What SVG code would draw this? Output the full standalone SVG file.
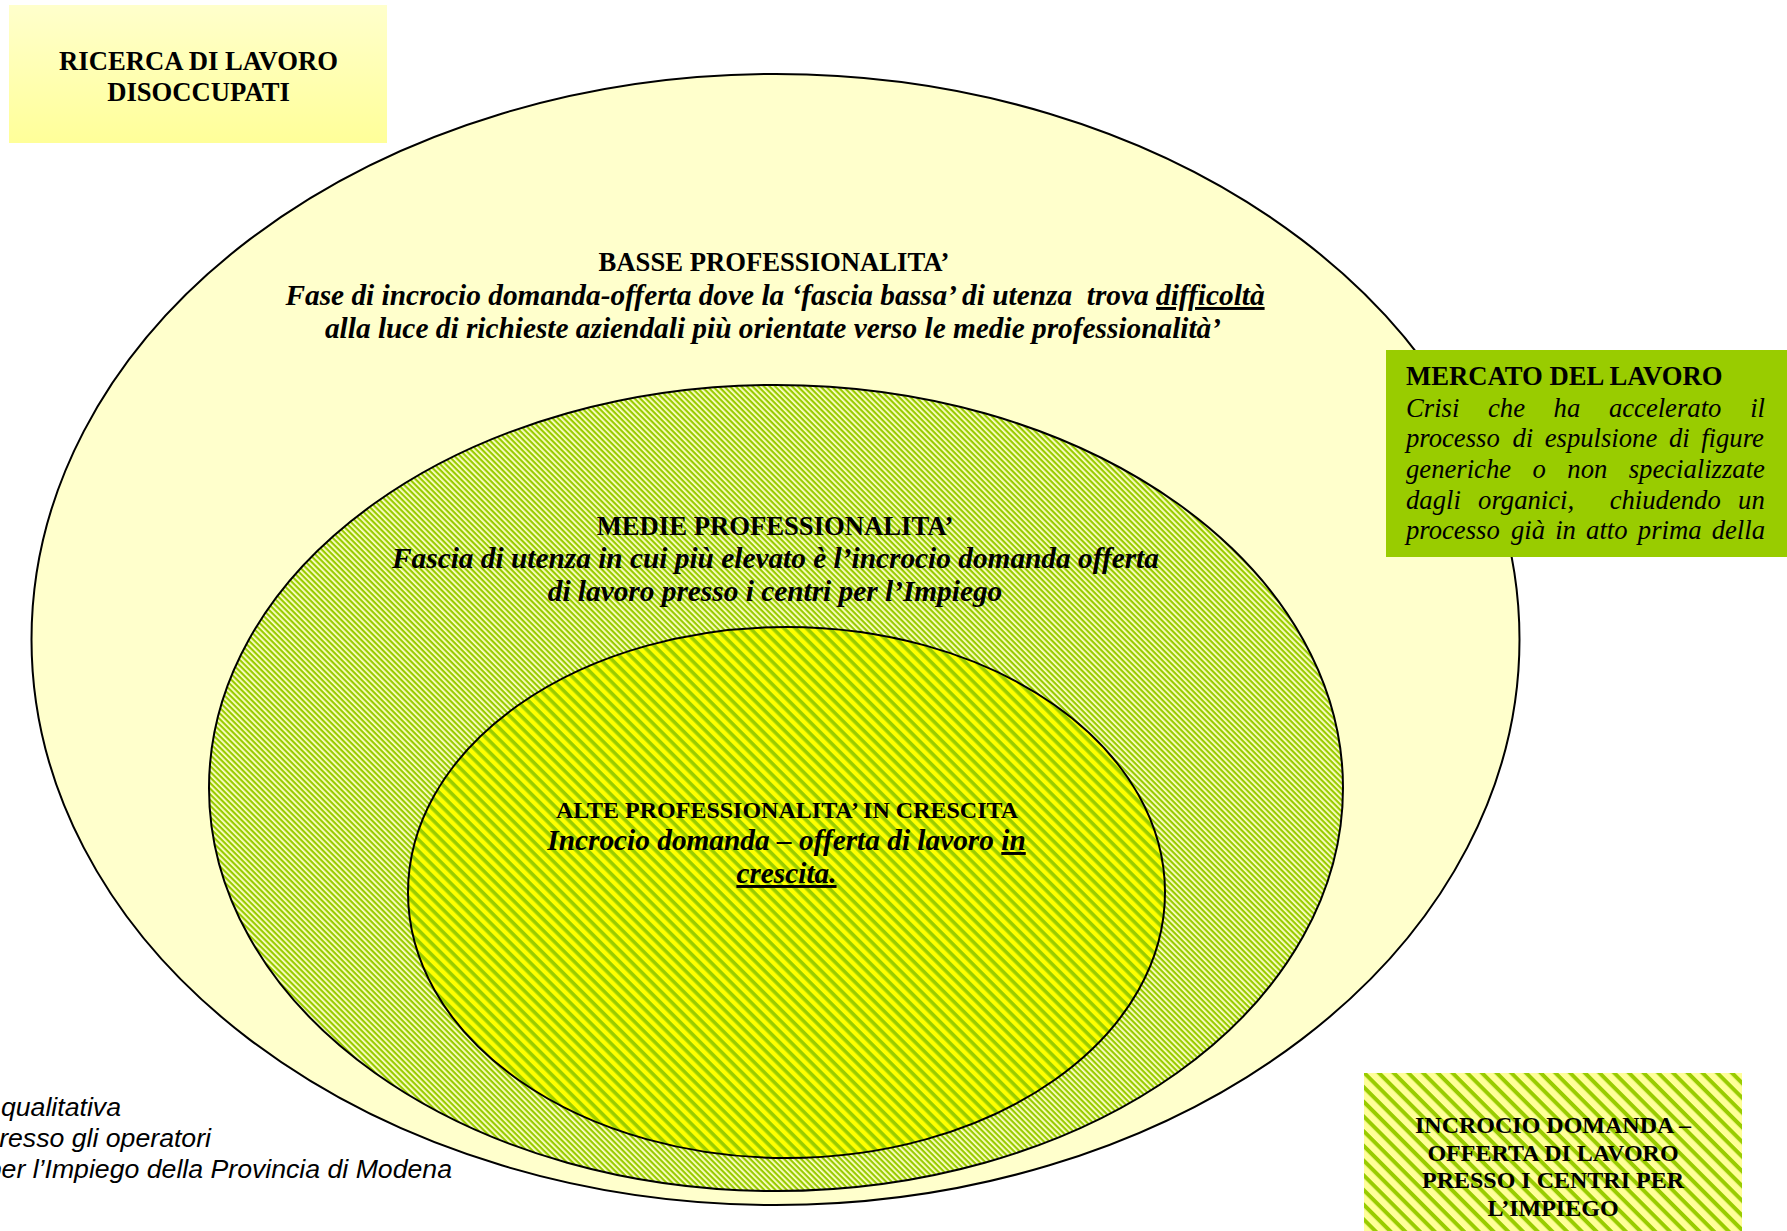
<svg xmlns="http://www.w3.org/2000/svg" width="1787" height="1231" viewBox="0 0 1787 1231">
<defs>
  <linearGradient id="gTitle" x1="0" y1="0" x2="0" y2="1">
    <stop offset="0" stop-color="#FFFFCC"/>
    <stop offset="1" stop-color="#FFFF99"/>
  </linearGradient>
  <pattern id="pMid" patternUnits="userSpaceOnUse" width="4" height="4" patternTransform="rotate(45)">
    <rect width="4" height="4" fill="#FFFFCC"/>
    <rect width="4" height="2.2" fill="#99CC00"/>
  </pattern>
  <pattern id="pIn" patternUnits="userSpaceOnUse" width="8" height="8" patternTransform="rotate(45)">
    <rect width="8" height="8" fill="#FFFF00"/>
    <rect width="8" height="3.6" fill="#99CC00"/>
  </pattern>
  <pattern id="pLeg" patternUnits="userSpaceOnUse" width="10.4" height="10.4" patternTransform="rotate(45)">
    <rect width="10.4" height="10.4" fill="#FFFF99"/>
    <rect width="10.4" height="4" fill="#99CC00"/>
  </pattern>
</defs>
<style>
  .ell { stroke: #000; stroke-width: 2; }
  .t { font-family: "Liberation Serif", "Times New Roman", serif; fill: #000; }
  .hb { font-weight: bold; font-size: 26.67px; text-anchor: middle; }
  .hs { font-weight: bold; font-size: 24px; text-anchor: middle; }
  .bi { font-weight: bold; font-style: italic; font-size: 29.33px; text-anchor: middle; }
  .it { font-style: italic; font-size: 26.67px; }
  .src { font-family: "Liberation Sans", Arial, sans-serif; font-style: italic; font-size: 26.67px; text-anchor: end; fill: #000; }
  .u { text-decoration: underline; }
</style>

<g id="basse">
  <ellipse class="ell" cx="775.5" cy="639.5" rx="744" ry="565.5" fill="#FFFFCC"/>
  <text class="t hb" x="774" y="271">BASSE PROFESSIONALITA’</text>
  <text class="t bi" x="775" y="305" xml:space="preserve">Fase di incrocio domanda-offerta dove la ‘fascia bassa’ di utenza  trova <tspan class="u">difficoltà</tspan></text>
  <text class="t bi" x="773" y="338">alla luce di richieste aziendali più orientate verso le medie professionalità’</text>
</g>

<g id="medie">
  <ellipse class="ell" cx="776" cy="788" rx="567" ry="403" fill="url(#pMid)"/>
  <text class="t hb" x="775" y="535">MEDIE PROFESSIONALITA’</text>
  <text class="t bi" x="775.5" y="568">Fascia di utenza in cui più elevato è l’incrocio domanda offerta</text>
  <text class="t bi" x="775" y="601">di lavoro presso i centri per l’Impiego</text>
</g>

<g id="alte">
  <ellipse class="ell" cx="786.5" cy="892.5" rx="378.5" ry="265.5" fill="url(#pIn)"/>
  <text class="t hs" x="787" y="818" font-size="24.4px">ALTE PROFESSIONALITA’ IN CRESCITA</text>
  <text class="t bi" x="786.5" y="850">Incrocio domanda – offerta di lavoro <tspan class="u">in</tspan></text>
  <text class="t bi" x="786.5" y="883"><tspan class="u">crescita.</tspan></text>
</g>

<g id="titolo">
  <rect x="9" y="5" width="378" height="138" fill="url(#gTitle)"/>
  <text class="t hb" x="198.5" y="70">RICERCA DI LAVORO</text>
  <text class="t hb" x="198.5" y="100.6">DISOCCUPATI</text>
</g>

<g id="mercato">
  <rect x="1386" y="350" width="401" height="207" fill="#99CC00"/>
  <text class="t" x="1406" y="385" font-weight="bold" font-size="26.67px">MERCATO DEL LAVORO</text>
  <text class="t it" y="416.5"><tspan x="1406">Crisi</tspan><tspan x="1488">che</tspan><tspan x="1553.6">ha</tspan><tspan x="1608.9">accelerato</tspan><tspan x="1750.2">il</tspan></text>
  <text class="t it" y="447.3"><tspan x="1406">processo</tspan><tspan x="1512.4">di</tspan><tspan x="1544.7">espulsione</tspan><tspan x="1668.9">di</tspan><tspan x="1701.2">figure</tspan></text>
  <text class="t it" y="478"><tspan x="1406">generiche</tspan><tspan x="1532.6">o</tspan><tspan x="1567.3">non</tspan><tspan x="1628.7">specializzate</tspan></text>
  <text class="t it" y="508.7"><tspan x="1406">dagli</tspan><tspan x="1478.1">organici,</tspan><tspan x="1609.7">chiudendo</tspan><tspan x="1738.1">un</tspan></text>
  <text class="t it" y="539.4"><tspan x="1406">processo</tspan><tspan x="1511">già</tspan><tspan x="1555.2">in</tspan><tspan x="1586.1">atto</tspan><tspan x="1637.8">prima</tspan><tspan x="1711.7">della</tspan></text>
</g>

<g id="legenda">
  <rect x="1364" y="1073" width="378" height="160" fill="url(#pLeg)"/>
  <text class="t hs" x="1553" y="1133">INCROCIO DOMANDA –</text>
  <text class="t hs" x="1553" y="1160.5">OFFERTA DI LAVORO</text>
  <text class="t hs" x="1553" y="1188">PRESSO I CENTRI PER</text>
  <text class="t hs" x="1553" y="1215.5">L’IMPIEGO</text>
</g>

<g id="fonte">
  <text class="src" x="121" y="1115.5">qualitativa</text>
  <text class="src" x="211" y="1146.5">resso gli operatori</text>
  <text class="src" x="452" y="1177.5">per l’Impiego della Provincia di Modena</text>
</g>

<g id="connectors"/>
</svg>
